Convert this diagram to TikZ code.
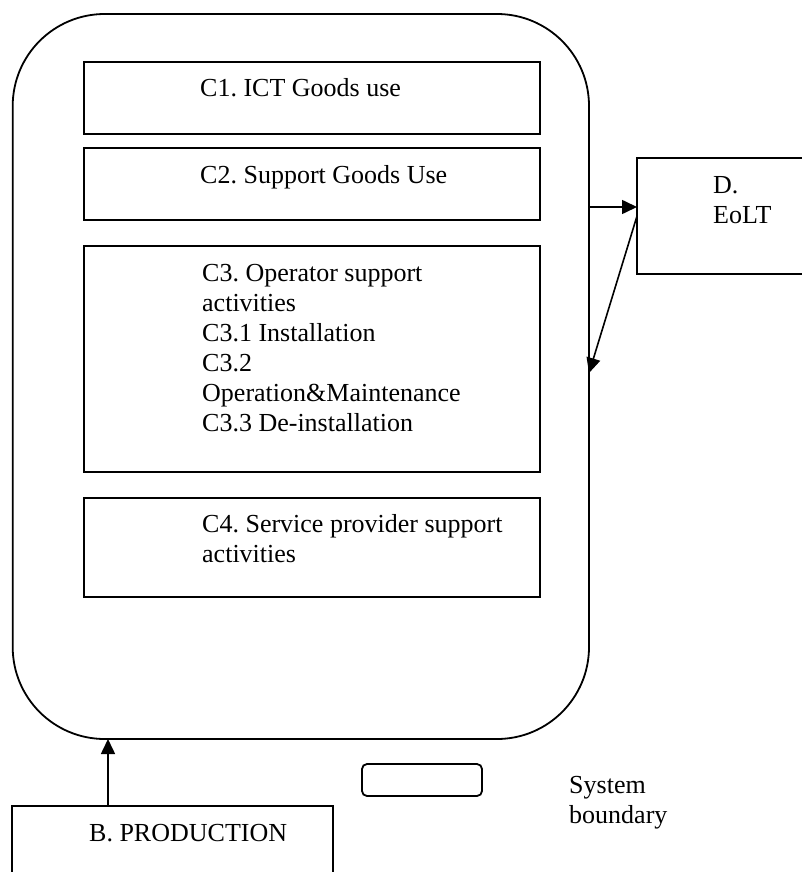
\documentclass[tikz,border=0pt]{standalone}
\usepackage{fontspec}
\setmainfont{Liberation Serif}
\frenchspacing
\usetikzlibrary{arrows.meta}
\begin{document}
\begin{tikzpicture}[x=1pt,y=-1pt,
  every node/.style={font=\fontsize{26}{30}\selectfont},
  box/.style={draw, line width=1.8pt, anchor=north west, inner sep=0pt, outer sep=0pt},
  txt/.style={anchor=base west, inner sep=0pt, align=left},
  arr/.style={line width=1.6pt, -{Triangle[length=15pt,width=14pt]}}]
\useasboundingbox (0,0) rectangle (802,872);
% system boundary
\node[box, rounded corners=92pt, minimum width=576.3pt, minimum height=725pt] (sys) at (12.7,14) {};
% inner boxes
\node[box, minimum width=456pt, minimum height=72pt] (c1) at (84,62) {};
\node[box, minimum width=456pt, minimum height=72pt] (c2) at (84,148) {};
\node[box, minimum width=456pt, minimum height=226pt] (c3) at (84,246) {};
\node[box, minimum width=456pt, minimum height=99pt] (c4) at (84,498) {};
% outer boxes
\node[box, minimum width=172pt, minimum height=116pt] (d) at (637,158) {};
\node[box, minimum width=321pt, minimum height=90pt] (b) at (12,806) {};
\node[box, rounded corners=5pt, minimum width=120pt, minimum height=32pt] (leg) at (362,764) {};
% texts (anchor = baseline of the last line)
\node[txt] (t1) at (200,97) {C1. ICT Goods use};
\node[txt] (t2) at (200,183) {C2. Support Goods Use};
\node[txt] (t3) at (202,431) {C3. Operator support\\activities\\C3.1 Installation\\C3.2\\Operation\&Maintenance\\C3.3 De-installation};
\node[txt] (t4) at (202,562) {C4. Service provider support\\activities};
\node[txt] (td) at (713,223) {D.\\EoLT};
\node[txt] (tb) at (89,841) {B. PRODUCTION};
\node[txt] (tl) at (569,823) {System\\boundary};
% arrows
\draw[arr] (sys.east |- 0,207) -- (d.west |- 0,207);
\draw[arr] (d.west) -- (sys.east |- 0,373);
\draw[arr] (b.north -| 108,0) -- (sys.south -| 108,0);
\end{tikzpicture}
\end{document}
